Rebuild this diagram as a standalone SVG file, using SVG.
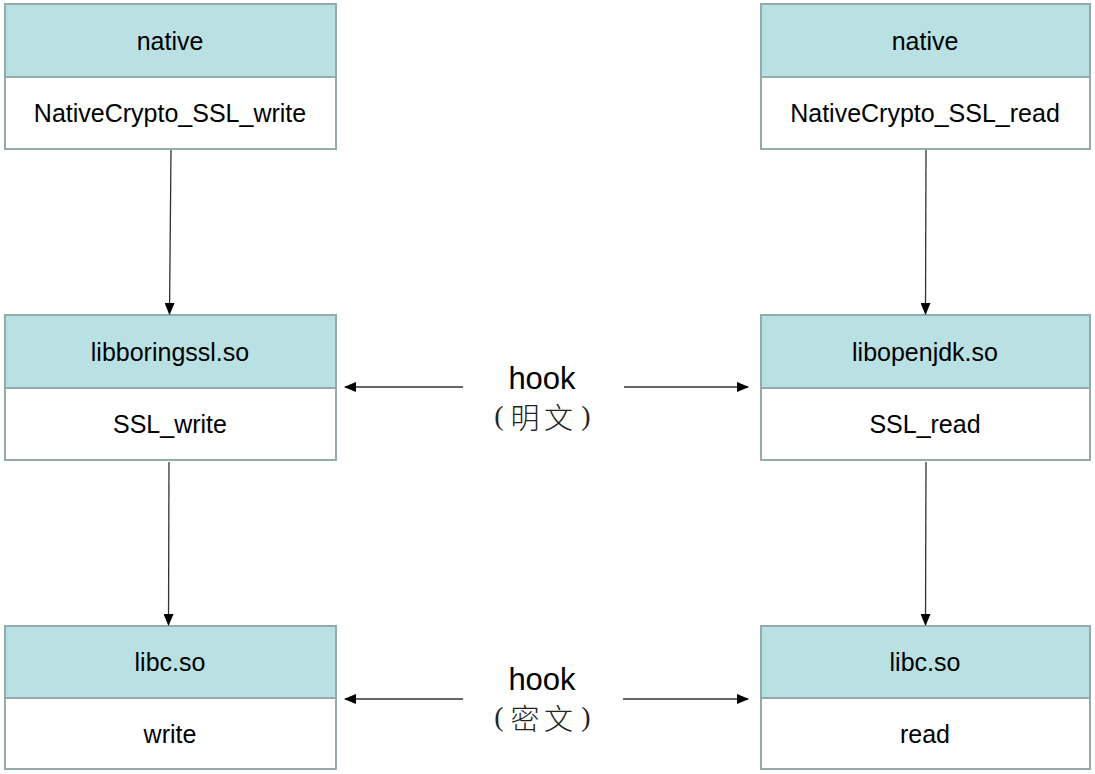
<svg xmlns="http://www.w3.org/2000/svg" width="1095" height="774" viewBox="0 0 1095 774">
<style>
.hd{fill:#b9e0e3;stroke:#94abae;stroke-width:2}
.bd{fill:#ffffff;stroke:#94abae;stroke-width:2}
.t{font-family:"Liberation Sans",Arial,sans-serif;font-size:25px;fill:#000;text-anchor:middle}
.h{font-family:"Liberation Sans",Arial,sans-serif;font-size:31px;fill:#000;text-anchor:middle}
.c{font-family:"Noto Sans CJK SC",sans-serif;font-size:29px;font-weight:300;fill:#222;text-anchor:middle}
.p{font-family:"Liberation Serif",serif;font-size:28px;fill:#222;text-anchor:middle}
.ln{stroke:#333;stroke-width:1.3;fill:none;marker-end:url(#ah)}
</style>
<defs>
<marker id="ah" markerWidth="12" markerHeight="10" refX="11" refY="5" orient="auto" markerUnits="userSpaceOnUse">
<path d="M0,0 L12,5 L0,10 Z" fill="#000"/>
</marker>
</defs>
<rect width="1095" height="774" fill="#fff"/>
<g id="n1">
<rect class="hd" x="5" y="4" width="331" height="73"/>
<rect class="bd" x="5" y="77" width="331" height="72"/>
<text class="t" x="170" y="50">native</text>
<text class="t" x="170" y="122">NativeCrypto_SSL_write</text>
</g>
<g id="n2">
<rect class="hd" x="761" y="4" width="329" height="73"/>
<rect class="bd" x="761" y="77" width="329" height="72"/>
<text class="t" x="925" y="50">native</text>
<text class="t" x="925" y="122">NativeCrypto_SSL_read</text>
</g>
<g id="n3">
<rect class="hd" x="5" y="315" width="331" height="73"/>
<rect class="bd" x="5" y="388" width="331" height="72"/>
<text class="t" x="170" y="361">libboringssl.so</text>
<text class="t" x="170" y="433">SSL_write</text>
</g>
<g id="n4">
<rect class="hd" x="761" y="315" width="329" height="73"/>
<rect class="bd" x="761" y="388" width="329" height="72"/>
<text class="t" x="925" y="361">libopenjdk.so</text>
<text class="t" x="925" y="433">SSL_read</text>
</g>
<g id="n5">
<rect class="hd" x="5" y="626" width="331" height="72"/>
<rect class="bd" x="5" y="698" width="331" height="71"/>
<text class="t" x="170" y="671">libc.so</text>
<text class="t" x="170" y="743">write</text>
</g>
<g id="n6">
<rect class="hd" x="761" y="626" width="329" height="72"/>
<rect class="bd" x="761" y="698" width="329" height="71"/>
<text class="t" x="925" y="671">libc.so</text>
<text class="t" x="925" y="743">read</text>
</g>
<g id="labels">
<text class="h" x="542" y="389">hook</text>
<text class="p" x="499" y="425">(</text>
<text class="c" x="525" y="429">明</text>
<text class="c" x="558.5" y="429">文</text>
<text class="p" x="586" y="425">)</text>
<text class="h" x="542" y="690">hook</text>
<text class="p" x="499" y="726">(</text>
<text class="c" x="525" y="730">密</text>
<text class="c" x="558.5" y="730">文</text>
<text class="p" x="586" y="726">)</text>
</g>
<g id="connectors">
<line class="ln" x1="171" y1="150" x2="169.5" y2="314"/>
<line class="ln" x1="926" y1="150" x2="925.5" y2="314"/>
<line class="ln" x1="169" y1="462" x2="168.5" y2="625"/>
<line class="ln" x1="926" y1="462" x2="925.5" y2="625"/>
<line class="ln" x1="463" y1="387" x2="345" y2="387"/>
<line class="ln" x1="624" y1="387" x2="748" y2="387"/>
<line class="ln" x1="463" y1="699" x2="345" y2="699"/>
<line class="ln" x1="623" y1="699" x2="748" y2="699"/>
</g>
</svg>
